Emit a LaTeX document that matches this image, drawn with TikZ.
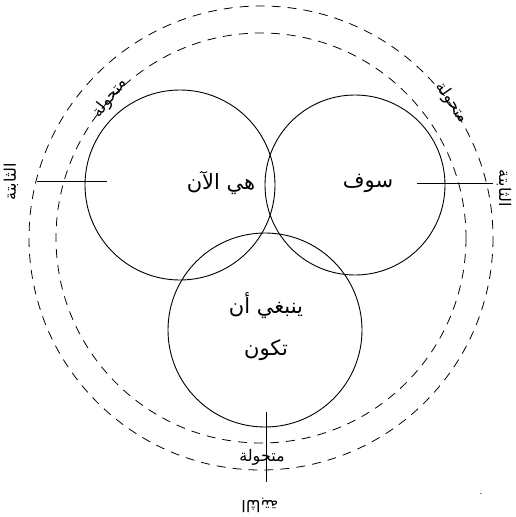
\documentclass[tikz,border=0pt]{standalone}
\usepackage{fontspec}
\newfontfamily\arabicfont[Script=Arabic]{DejaVu Sans}
\TeXXeTstate=1
\begin{document}
\begin{tikzpicture}[x=1pt,y=-1pt,
  solidc/.style={draw,line width=0.9pt},
  dashc/.style={draw,line width=0.8pt,dash pattern=on 9pt off 7pt},
  tick/.style={draw,line width=0.9pt},
  lab/.style={font=\arabicfont\fontsize{21}{23}\selectfont,inner sep=0pt},
  small/.style={font=\arabicfont\fontsize{16}{18}\selectfont,inner sep=0pt}]
\useasboundingbox (0,0) rectangle (515,517);
% circles
\coordinate (cl) at (180,185);
\coordinate (cr) at (355,185);
\coordinate (cb) at (265,330);
\coordinate (cc) at (261,238);
\draw[solidc] (cl) circle (95);
\draw[solidc] (cr) circle (90);
\draw[solidc] (cb) circle (97);
\draw[dashc] (cc) circle (205);
\draw[dashc] (cc) circle (232);
% ticks
\coordinate (l1) at (37,181);
\coordinate (l2) at (107,181);
\coordinate (r1) at (417,183);
\coordinate (r2) at (493,183);
\coordinate (b1) at (266,412);
\coordinate (b2) at (266,482);
\draw[tick] (l1) -- (l2);
\draw[tick] (r1) -- (r2);
\draw[tick] (b1) -- (b2);
% texts
\node[lab] (now) at (221,183) {\beginR هي الآن\endR};
\node[lab] (will) at (368,183) {\beginR سوف\endR};
\node[lab] (should) at (266,306) {\beginR ينبغي أن\endR};
\node[lab] (be) at (266,350) {\beginR تكون\endR};
\node[small,rotate=52] (ml) at (110,98) {\beginR متحولة\endR};
\node[small,rotate=-55] (mr) at (452,103) {\beginR متحولة\endR};
\node[small] (mb) at (262,457) {\beginR متحولة\endR};
\node[small,rotate=90] (sl) at (11,182) {\beginR الثابتة\endR};
\node[small,rotate=-90] (sr) at (504,188) {\beginR الثابتة\endR};
\node[small,rotate=180] (sb) at (260,505) {\beginR الثابتة\endR};
\node[inner sep=0pt,font=\fontsize{12}{14}\selectfont] (dot) at (481,494) {.};
\end{tikzpicture}
\end{document}
